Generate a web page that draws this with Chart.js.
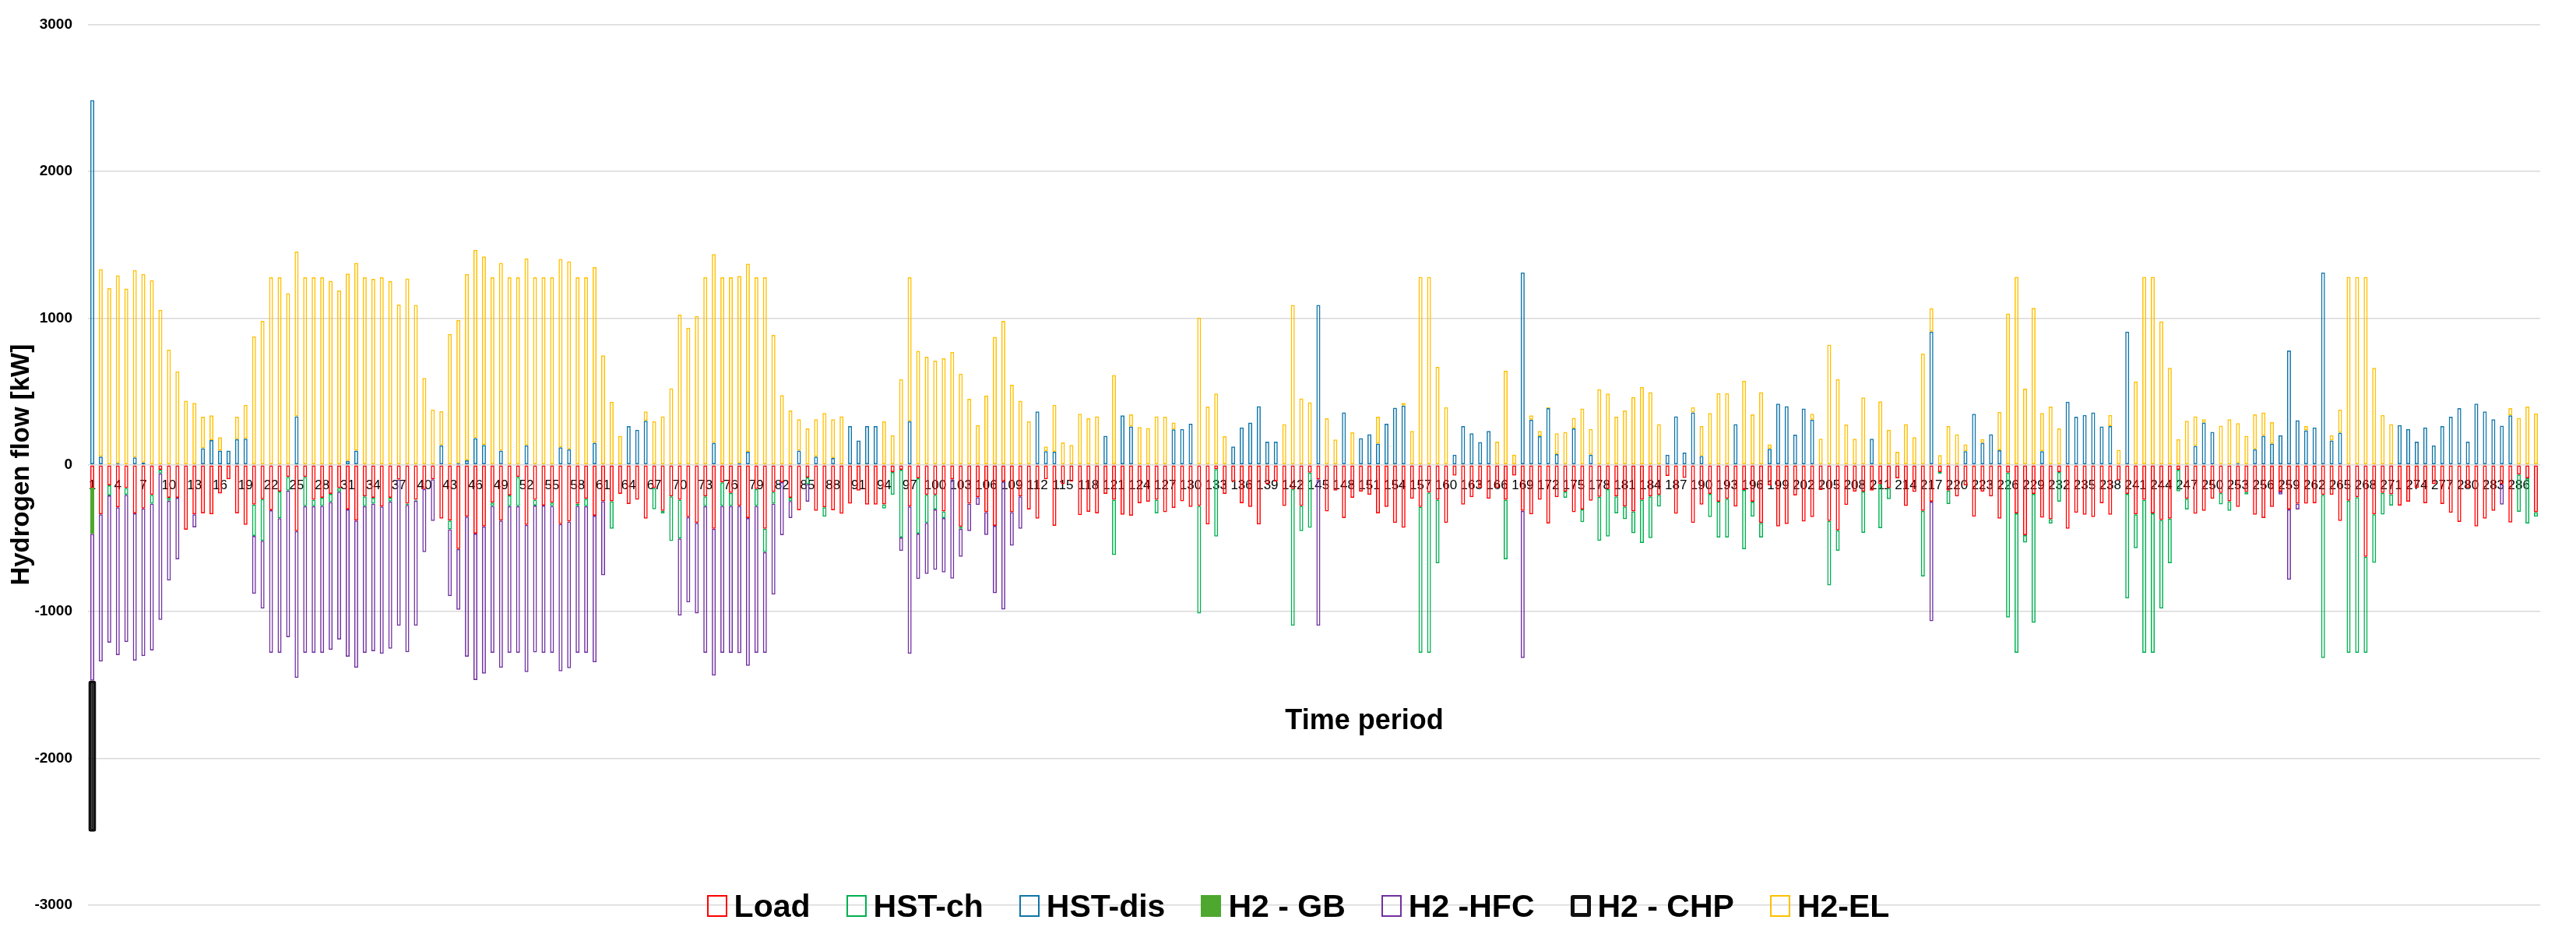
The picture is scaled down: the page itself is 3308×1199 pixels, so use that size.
<!DOCTYPE html>
<html>
<head>
<meta charset="utf-8">
<title>Hydrogen flow</title>
<script src="https://cdn.jsdelivr.net/npm/chart.js@4.4.1/dist/chart.umd.min.js"></script>
<style>
  html, body { margin: 0; padding: 0; background: #fff; }
  #wrap { position: relative; width: 3308px; height: 1199px; }
  #legend {
    position: absolute; left: 26px; right: 0; top: 1138px; height: 50px;
    display: flex; justify-content: center; align-items: center;
    font-family: "Liberation Sans", Arial, sans-serif; font-weight: bold; font-size: 41px; color: #000;
  }
  .item { display: flex; align-items: center; margin: 0 23px; }
  .key { width: 26px; height: 28px; box-sizing: border-box; margin-right: 9px; }
</style>
</head>
<body>
<div id="wrap">
  <canvas id="chart" width="3308" height="1199"></canvas>
  <div id="legend"></div>
</div>
<script>
// time periods 1..288
const periods = Array.from({ length: 288 }, (_, i) => String(i + 1));

// hydrogen flows [kW] (negative = consumption side)
const load = [
  -155, -337, -139, -290, -158, -330, -297, -205, -33, -224, -224, -442,
  -337, -330, -337, -195, -99, -330, -409, -271, -234, -310, -182, -83,
  -452, -83, -238, -224, -198, -158, -304, -380, -215, -224, -284, -224,
  -100, -264, -238, -165, -99, -366, -380, -574, -353, -469, -419, -257,
  -380, -208, -83, -409, -238, -277, -257, -403, -386, -264, -231, -346,
  -248, -248, -198, -267, -238, -366, -158, -314, -215, -238, -356, -396,
  -215, -436, -120, -191, -280, -363, -165, -436, -185, -119, -224, -310,
  -86, -314, -290, -310, -333, -264, -175, -271, -271, -270, -50, -33,
  -284, -92, -205, -205, -317, -99, -422, -264, -221, -323, -416, -115,
  -323, -215, -304, -366, -99, -416, -132, -115, -343, -320, -330, -198,
  -238, -340, -346, -261, -251, -238, -323, -294, -248, -287, -280, -406,
  -30, -198, -115, -261, -287, -406, -132, -115, -280, -165, -280, -53,
  -99, -317, -175, -363, -224, -182, -205, -330, -287, -396, -429, -231,
  -287, -188, -238, -396, -73, -271, -221, -158, -231, -158, -238, -73,
  -314, -337, -238, -399, -221, -182, -323, -304, -244, -218, -165, -215,
  -284, -317, -238, -215, -205, -76, -333, -89, -396, -271, -198, -251,
  -231, -284, -172, -251, -396, -139, -419, -403, -208, -386, -356, -172,
  -383, -446, -274, -182, -182, -175, -132, -158, -92, -280, -185, -314,
  -251, -50, -175, -215, -139, -353, -182, -215, -366, -53, -330, -479,
  -198, -360, -370, -50, -436, -327, -340, -356, -261, -340, -106, -198,
  -337, -238, -330, -376, -366, -33, -231, -333, -314, -231, -191, -248,
  -287, -185, -340, -363, -287, -182, -304, -264, -264, -261, -205, -205,
  -383, -244, -221, -627, -337, -191, -201, -277, -251, -158, -261, -132,
  -267, -327, -389, -158, -419, -366, -314, -132, -393, -66, -92, -323
];

const hstCh = [
  0, 0, -69, 0, -47, 0, 0, -59, -26, -20, 0, 0,
  0, 0, 0, 0, 0, 0, 0, -214, -284, 0, -182, -92,
  0, -198, -43, -56, -56, -26, 0, 0, -66, -40, 0, -26,
  0, -10, -7, 0, 0, 0, -59, 0, 0, 0, 0, -23,
  0, -73, -198, 0, -40, 0, -23, 0, 0, -16, -50, 0,
  0, -188, 0, 0, 0, 0, -145, -16, -304, -264, 0, 0,
  -66, 0, -160, -89, 0, 0, -115, -158, -79, 0, -23, 0,
  -46, 0, -63, 0, 0, 0, 0, 0, 0, -27, -155, -462,
  0, -376, -191, -99, -46, 0, -13, 0, 0, 0, 0, 0,
  0, 0, 0, 0, 0, 0, 0, 0, 0, 0, 0, 0,
  -376, 0, 0, 0, 0, -92, 0, 0, 0, 0, -733, 0,
  -459, 0, 0, 0, 0, 0, 0, 0, 0, -931, -172, -376,
  0, 0, 0, 0, 0, 0, 0, 0, 0, 0, 0, 0,
  -993, -1092, -432, 0, 0, 0, 0, 0, 0, 0, -406, 0,
  0, 0, 0, 0, 0, -43, 0, -86, 0, -300, -323, -115,
  -86, -149, -294, -284, -79, 0, 0, 0, 0, 0, -158, -244,
  -264, 0, -403, -102, -99, 0, 0, 0, 0, 0, 0, 0,
  -439, -139, 0, 0, -281, 0, -300, -76, 0, 0, 0, -446,
  0, -10, -92, 0, 0, 0, 0, 0, 0, -987, -950, -50,
  -878, 0, -30, -201, 0, 0, 0, 0, 0, 0, 0, -713,
  -231, -1043, -950, -604, -304, -148, -73, 0, 0, 0, -79, -66,
  0, -17, 0, 0, 0, 0, 0, 0, 0, 0, -1112, 0,
  0, -1036, -1059, -653, -330, -148, -76, 0, 0, 0, 0, 0,
  0, 0, 0, 0, 0, 0, 0, 0, 0, -254, -307, -30
];

const hstDis = [
  2485, 56, 0, 10, 0, 50, 16, 0, 0, 0, 0, 0,
  0, 112, 168, 96, 96, 175, 178, 0, 0, 0, 0, 0,
  330, 0, 0, 0, 0, 0, 26, 96, 0, 0, 0, 0,
  0, 0, 0, 0, 0, 132, 0, 10, 30, 182, 135, 0,
  96, 0, 0, 132, 0, 0, 0, 119, 106, 0, 0, 149,
  0, 0, 0, 264, 238, 300, 0, 0, 0, 0, 0, 0,
  0, 149, 0, 0, 10, 89, 0, 0, 0, 0, 0, 96,
  0, 56, 0, 46, 0, 264, 165, 264, 264, 0, 0, 0,
  297, 0, 0, 0, 0, 0, 0, 0, 0, 0, 0, 0,
  0, 0, 0, 363, 92, 89, 0, 0, 0, 0, 0, 198,
  0, 337, 261, 0, 0, 0, 0, 241, 244, 280, 0, 0,
  0, 0, 125, 254, 287, 399, 158, 158, 0, 0, 0, 0,
  1089, 0, 0, 356, 0, 182, 208, 145, 280, 389, 403, 0,
  0, 0, 0, 0, 69, 264, 215, 155, 231, 0, 0, 0,
  1310, 307, 195, 386, 73, 0, 248, 0, 69, 0, 0, 0,
  0, 0, 0, 0, 0, 69, 330, 83, 356, 59, 0, 0,
  0, 277, 0, 0, 0, 109, 416, 399, 205, 383, 307, 0,
  0, 0, 0, 0, 0, 178, 0, 0, 0, 0, 0, 0,
  907, 0, 0, 0, 92, 347, 149, 208, 99, 0, 0, 0,
  0, 92, 0, 0, 429, 327, 340, 356, 261, 264, 0, 907,
  0, 0, 0, 0, 0, 0, 0, 129, 287, 224, 0, 0,
  10, 0, 106, 198, 145, 201, 779, 304, 234, 254, 1310, 165,
  218, 0, 0, 0, 0, 0, 0, 271, 244, 158, 254, 132,
  264, 327, 386, 158, 416, 363, 310, 267, 337, 0, 0, 0
];

// gas boiler and CHP only run in period 1
const h2Gb = [-315];
const h2Chp = [-1030];

const h2Hfc = [
  -1000, -1003, -1003, -1007, -1003, -1003, -1006, -1000, -997, -545, -420, 0,
  -89, 0, 0, 0, 0, 0, 0, -393, -462, -970, -917, -1000,
  -1000, -1000, -1000, -1000, -1006, -1006, -1003, -1003, -1000, -1006, -1003, -1003,
  -996, -1003, -851, -429, -284, 0, -455, -413, -954, -997, -1003, -1000,
  -1003, -1000, -1000, -1003, -1000, -1003, -1000, -1003, -1000, -1000, -1000, -1000,
  -504, 0, 0, 0, 0, 0, 0, 0, 0, -525, -581, -617,
  -1000, -1000, -1000, -1000, -1003, -1007, -1000, -686, -620, -360, -116, 0,
  -119, 0, 0, 0, 0, 0, 0, 0, 0, 0, 0, -92,
  -1003, -310, -347, -412, -370, -676, -191, -188, -53, -155, -459, -871,
  -228, -221, 0, 0, 0, 0, 0, 0, 0, 0, 0, 0,
  0, 0, 0, 0, 0, 0, 0, 0, 0, 0, 0, 0,
  0, 0, 0, 0, 0, 0, 0, 0, 0, 0, 0, 0,
  -997, 0, 0, 0, 0, 0, 0, 0, 0, 0, 0, 0,
  0, 0, 0, 0, 0, 0, 0, 0, 0, 0, 0, 0,
  -1003, 0, 0, 0, 0, 0, 0, 0, 0, 0, 0, 0,
  0, 0, 0, 0, 0, 0, 0, 0, 0, 0, 0, 0,
  0, 0, 0, 0, 0, 0, 0, 0, 0, 0, 0, 0,
  0, 0, 0, 0, 0, 0, 0, 0, 0, 0, 0, 0,
  -815, 0, 0, 0, 0, 0, 0, 0, 0, 0, 0, 0,
  0, 0, 0, 0, 0, 0, 0, 0, 0, 0, 0, 0,
  0, 0, 0, 0, 0, 0, 0, 0, 0, 0, 0, 0,
  0, 0, 0, 0, 0, -20, -479, -40, 0, 0, 0, 0,
  0, 0, 0, 0, 0, 0, 0, 0, 0, 0, 0, 0,
  0, 0, 0, 0, 0, 0, 0, -139, 0, 0, 0, 0
];

const h2El = [
  0, 1277, 1205, 1280, 1201, 1277, 1284, 1257, 1056, 785, 637, 436,
  422, 215, 169, 92, 0, 152, 231, 875, 980, 1277, 1277, 1168,
  1122, 1277, 1277, 1277, 1254, 1188, 1277, 1280, 1277, 1267, 1277, 1251,
  1092, 1270, 1089, 591, 376, 234, 891, 977, 1270, 1283, 1284, 1277,
  1280, 1277, 1277, 1274, 1277, 1277, 1277, 1283, 1280, 1277, 1277, 1197,
  746, 429, 198, 0, 0, 63, 297, 330, 521, 1023, 934, 1013,
  1277, 1286, 1277, 1277, 1277, 1281, 1277, 1277, 884, 475, 370, 214,
  248, 254, 353, 264, 330, 0, 0, 0, 0, 297, 201, 584,
  980, 776, 736, 710, 726, 769, 620, 449, 271, 472, 871, 980,
  545, 436, 297, 0, 33, 320, 152, 135, 347, 317, 330, 0,
  611, 0, 82, 257, 251, 330, 327, 46, 0, 0, 1003, 396,
  485, 195, 0, 0, 0, 0, 0, 0, 277, 1089, 452, 426,
  0, 317, 172, 0, 221, 0, 0, 182, 0, 0, 19, 231,
  1280, 1280, 667, 393, 0, 0, 0, 0, 0, 158, 640, 69,
  0, 30, 36, 7, 142, 224, 72, 383, 175, 515, 485, 327,
  370, 462, 531, 495, 277, 0, 0, 0, 37, 205, 353, 488,
  488, 0, 571, 343, 495, 30, 0, 0, 0, 0, 40, 178,
  818, 584, 274, 178, 459, 0, 432, 238, 89, 277, 188, 759,
  159, 66, 264, 208, 47, 0, 26, 0, 261, 1030, 1280, 518,
  1069, 261, 396, 248, 0, 0, 0, 0, 0, 76, 102, 0,
  568, 1280, 1280, 977, 660, 175, 300, 201, 23, 0, 267, 310,
  274, 198, 237, 158, 145, 0, 0, 0, 30, 0, 0, 36,
  158, 1280, 1280, 1280, 660, 340, 277, 0, 0, 0, 0, 0,
  0, 0, 0, 0, 0, 0, 0, 0, 49, 320, 396, 350
];

const FONT = '"Liberation Sans", Arial, sans-serif';

// zero entries are left out so they don't draw a flat outline
function nz(arr) {
  return arr.map(v => (v === 0 ? null : v));
}

// outlined stacked columns, like the Excel original
function outlined(label, data, color) {
  return {
    label: label,
    data: nz(data),
    backgroundColor: 'rgba(0,0,0,0)',
    borderColor: color,
    borderWidth: 1.5,
    borderSkipped: false,
    barPercentage: 0.46,
    categoryPercentage: 1
  };
}

const datasets = [
  outlined('Load', load, '#FF0000'),
  outlined('HST-ch', hstCh, '#00B050'),
  outlined('HST-dis', hstDis, '#0F75A8'),
  {
    label: 'H2 - GB', data: nz(h2Gb),
    backgroundColor: '#4EA72E', borderColor: '#4EA72E', borderWidth: 0,
    barPercentage: 0.46, categoryPercentage: 1
  },
  outlined('H2 -HFC', h2Hfc, '#7030A0'),
  {
    label: 'H2 - CHP', data: nz(h2Chp),
    backgroundColor: '#111111', borderColor: '#111111', borderWidth: 4,
    borderRadius: 3, borderSkipped: false,
    barPercentage: 0.92, categoryPercentage: 1
  },
  outlined('H2-EL', h2El, '#FFC000')
];

// x-axis title sits under the plot, a bit right of centre
const timeTitle = {
  id: 'timeTitle',
  afterDraw(chart) {
    const { ctx, chartArea } = chart;
    ctx.save();
    ctx.font = 'bold 36px ' + FONT;
    ctx.fillStyle = '#000';
    ctx.textAlign = 'center';
    ctx.textBaseline = 'alphabetic';
    const x = chartArea.left + (chartArea.right - chartArea.left) * 0.5205;
    ctx.fillText('Time period', x, 936);
    ctx.restore();
  }
};

new Chart(document.getElementById('chart'), {
  type: 'bar',
  data: { labels: periods, datasets: datasets },
  plugins: [timeTitle],
  options: {
    responsive: false,
    animation: false,
    devicePixelRatio: 1,
    layout: { padding: { top: 25, right: 46, bottom: 37, left: 0 } },
    plugins: { legend: { display: false }, tooltip: { enabled: false } },
    scales: {
      x: {
        stacked: true,
        position: { y: 0 },
        z: 1,
        grid: { display: false, drawTicks: false },
        border: { display: false },
        ticks: {
          autoSkip: false, maxRotation: 0, minRotation: 0, padding: 16,
          color: '#000', font: { family: FONT, size: 17 },
          callback: (v, i) => (i % 3 === 0 ? periods[i] : '')
        },
        afterFit: s => { s.height = 0; }
      },
      y: {
        stacked: true,
        min: -3000, max: 3000,
        grid: { color: '#d9d9d9', lineWidth: 1.5, drawTicks: false },
        border: { display: false },
        ticks: {
          stepSize: 1000, padding: 20, color: '#000',
          font: { family: FONT, size: 19, weight: 'bold' },
          callback: v => String(v)
        },
        title: {
          display: true, text: 'Hydrogen flow [kW]', color: '#000',
          font: { family: FONT, size: 33, weight: 'bold' },
          padding: { top: 8, bottom: 0 }
        },
        afterFit: s => { s.width = 113; }
      }
    }
  }
});

// legend drawn as html so it can overlap the bottom gridline like the original
const legendBox = document.getElementById('legend');
datasets.forEach(ds => {
  const item = document.createElement('div');
  item.className = 'item';
  const key = document.createElement('span');
  key.className = 'key';
  if (ds.label === 'H2 - GB') {
    key.style.background = ds.backgroundColor;
  } else if (ds.label === 'H2 - CHP') {
    key.style.border = '5px solid ' + ds.borderColor;
    key.style.borderRadius = '3px';
  } else {
    key.style.border = '2px solid ' + ds.borderColor;
  }
  const txt = document.createElement('span');
  txt.textContent = ds.label;
  item.appendChild(key);
  item.appendChild(txt);
  legendBox.appendChild(item);
});
</script>
</body>
</html>
